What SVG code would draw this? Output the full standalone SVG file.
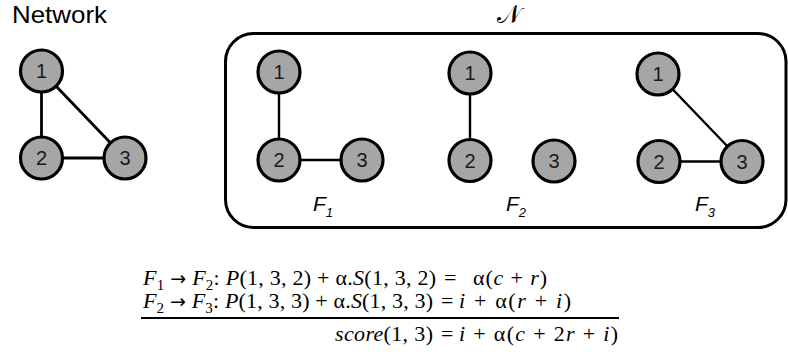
<svg xmlns="http://www.w3.org/2000/svg" width="788" height="354" viewBox="0 0 788 354">
  <style>
    .node circle { fill: #a6a6a6; stroke: #000; stroke-width: 3.2; }
    .node text { font-family: "Liberation Sans", Arial, sans-serif; font-size: 20px; fill: #1a1a1a; text-anchor: middle; }
    .edge { stroke: #000; stroke-width: 2.4; fill: none; }
    .edge-main { stroke: #000; stroke-width: 2.8; fill: none; }
    .title { font-family: "Liberation Sans", Arial, sans-serif; font-size: 24px; fill: #000; }
    .flabel { font-family: "Liberation Sans", Arial, sans-serif; font-size: 21px; font-style: italic; fill: #000; }
    .flabel .sub { font-size: 13px; }
    .math { font-family: "Liberation Serif", "Times New Roman", serif; font-size: 22px; fill: #000; }
    .it { font-style: italic; }
    .sub { font-size: 15px; }
    .arr { font-family: "DejaVu Sans", sans-serif; font-size: 19px; }
  </style>

  <!-- title of the full network -->
  <text class="title" x="12" y="23" textLength="95" lengthAdjust="spacingAndGlyphs">Network</text>

  <!-- set of feasible subgraphs -->
  <text x="509" y="23" font-family="'DejaVu Serif', 'DejaVu Sans', serif" font-size="25" text-anchor="middle">𝒩</text>
  <rect x="225.5" y="33.5" width="560.5" height="194" rx="28" ry="28" fill="none" stroke="#000" stroke-width="3"/>

  <!-- connectors -->
  <g id="connectors">
    <line class="edge-main" x1="41.5" y1="71" x2="41.5" y2="158"/>
    <line class="edge-main" x1="41.5" y1="158" x2="125" y2="158"/>
    <line class="edge-main" x1="41.5" y1="71" x2="125" y2="158"/>

    <line class="edge" x1="279" y1="72" x2="279" y2="160"/>
    <line class="edge" x1="279" y1="160" x2="362" y2="160"/>

    <line class="edge" x1="470" y1="73" x2="470" y2="160.5"/>

    <line class="edge" x1="658" y1="74" x2="742" y2="161.5"/>
    <line class="edge" x1="659" y1="161.5" x2="742" y2="161.5"/>
  </g>

  <!-- full network nodes -->
  <g id="net-1" class="node"><circle cx="41.5" cy="71" r="21"/><text x="41.5" y="78">1</text></g>
  <g id="net-2" class="node"><circle cx="41.5" cy="158" r="21"/><text x="41.5" y="165">2</text></g>
  <g id="net-3" class="node"><circle cx="125" cy="158" r="21"/><text x="125" y="165">3</text></g>

  <!-- F1 -->
  <g id="f1-1" class="node"><circle cx="279" cy="72" r="21"/><text x="279" y="79">1</text></g>
  <g id="f1-2" class="node"><circle cx="279" cy="160" r="21"/><text x="279" y="167">2</text></g>
  <g id="f1-3" class="node"><circle cx="362" cy="160" r="21"/><text x="362" y="167">3</text></g>

  <!-- F2 -->
  <g id="f2-1" class="node"><circle cx="470" cy="73" r="21"/><text x="470" y="80">1</text></g>
  <g id="f2-2" class="node"><circle cx="470" cy="160.5" r="21"/><text x="470" y="167.5">2</text></g>
  <g id="f2-3" class="node"><circle cx="554" cy="161" r="21"/><text x="554" y="168">3</text></g>

  <!-- F3 -->
  <g id="f3-1" class="node"><circle cx="658" cy="74" r="21"/><text x="658" y="81">1</text></g>
  <g id="f3-2" class="node"><circle cx="659" cy="161.5" r="21"/><text x="659" y="168.5">2</text></g>
  <g id="f3-3" class="node"><circle cx="742" cy="161.5" r="21"/><text x="742" y="168.5">3</text></g>

  <!-- subgraph labels -->
  <text class="flabel" x="313" y="211">F<tspan class="sub" dy="6">1</tspan></text>
  <text class="flabel" x="506" y="211">F<tspan class="sub" dy="6">2</tspan></text>
  <text class="flabel" x="695" y="211">F<tspan class="sub" dy="6">3</tspan></text>

  <!-- score derivation -->
  <g id="formula" class="math">
    <text x="143" y="285" textLength="293" lengthAdjust="spacing"><tspan class="it">F</tspan><tspan class="sub" dy="5">1</tspan><tspan dy="-5"> </tspan><tspan class="arr">→</tspan> <tspan class="it">F</tspan><tspan class="sub" dy="5">2</tspan><tspan dy="-5">: </tspan><tspan class="it">P</tspan>(1, 3, 2) + α.<tspan class="it">S</tspan>(1, 3, 2)</text>
    <text x="444" y="285">=</text>
    <text x="473" y="285" textLength="74" lengthAdjust="spacing">α(<tspan class="it">c</tspan> + <tspan class="it">r</tspan>)</text>

    <text x="143" y="308" textLength="290" lengthAdjust="spacing"><tspan class="it">F</tspan><tspan class="sub" dy="5">2</tspan><tspan dy="-5"> </tspan><tspan class="arr">→</tspan> <tspan class="it">F</tspan><tspan class="sub" dy="5">3</tspan><tspan dy="-5">: </tspan><tspan class="it">P</tspan>(1, 3, 3) + α.<tspan class="it">S</tspan>(1, 3, 3)</text>
    <text x="441" y="308">=</text>
    <text x="459" y="308" textLength="112" lengthAdjust="spacing"><tspan class="it">i</tspan> + α(<tspan class="it">r</tspan> + <tspan class="it">i</tspan>)</text>

    <line x1="141" y1="318" x2="619" y2="318" stroke="#000" stroke-width="2"/>

    <text x="335" y="341" textLength="98" lengthAdjust="spacing"><tspan class="it">score</tspan>(1, 3)</text>
    <text x="441" y="341">=</text>
    <text x="459" y="341" textLength="159" lengthAdjust="spacing"><tspan class="it">i</tspan> + α(<tspan class="it">c</tspan> + 2<tspan class="it">r</tspan> + <tspan class="it">i</tspan>)</text>
  </g>
</svg>
